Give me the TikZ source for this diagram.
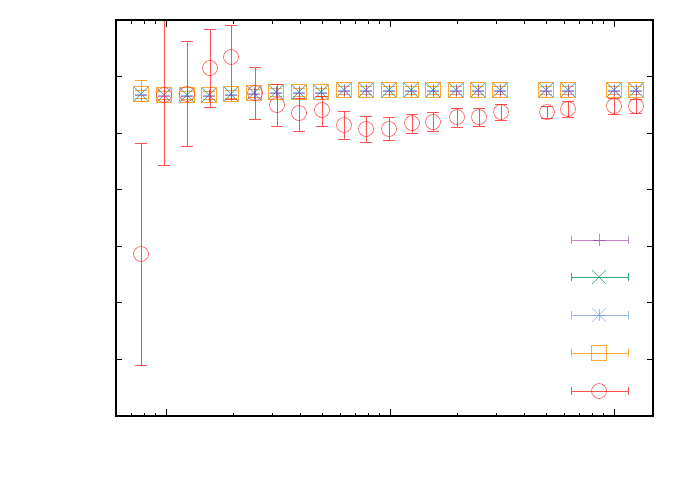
\documentclass[tikz,border=0pt]{standalone}
\begin{document}
\begin{tikzpicture}[x=1pt,y=-1pt,
  purp/.style={draw=violet!80!white,line width=0.6pt,opacity=0.6},
  grn/.style={draw=teal!80!green,line width=0.6pt,opacity=0.8},
  blu/.style={draw=cyan!60!blue!60,line width=0.6pt,opacity=0.7},
  org/.style={draw=orange!85!yellow,line width=0.6pt,opacity=0.8},
  rd/.style={draw=red!90!white,line width=0.6pt,opacity=0.75}]
\useasboundingbox (0,0) rectangle (692,485);
\newcommand\emplus[3]{\draw[#3] ({#1-6},#2)--({#1+6},#2) (#1,{#2-6})--(#1,{#2+6});}
\newcommand\emx[3]{\draw[#3] ({#1-7},{#2-7})--({#1+7},{#2+7}) ({#1-7},{#2+7})--({#1+7},{#2-7});}
\newcommand\emsq[3]{\draw[#3] ({#1-7.5},{#2-7.5}) rectangle ({#1+7.5},{#2+7.5});}
\newcommand\emcirc[3]{\draw[#3] (#1,#2) circle (7.5);}
\newcommand\ebar[4]{\draw[#4] (#1,#2)--(#1,#3) ({#1-6},#2)--({#1+6},#2) ({#1-6},#3)--({#1+6},#3);}
% other series
\foreach \x/\y in {141/94,164/95,187/95,209/95,231/94,254/93,276/92,299/92,321/92,344/90,366/90,389/90,411/90,433/90,456/90,478/90,500/90,546/90,568/90,614/90,636/90}{
  \ebar{\x}{\y-4}{\y+4}{org}
  \emsq{\x}{\y}{org}
  \emx{\x}{\y}{grn}
  \emplus{\x}{\y}{blu}
  \emx{\x}{\y}{blu}
  \emplus{\x}{\y+1}{purp}
}
\ebar{141}{80}{101}{org}
% red series
\foreach \x/\y/\lo/\hi in {141/254/143/365,164/95/20/165,187/94/41/146,210/68/29/107,231/57/25/99,255/93/67/119,277/105/84/126,299/113/98/131,322/110/96/126,344/125/111/139,366/129/116/142,389/129/117/140,412/123/114/133,433/122/112/131,457/117/108/127,479/117/108/126,501/112/104/120,547/112/106/118,568/109/101/117,614/106/98/114,636/106/99/113}{
  \ebar{\x}{\lo}{\hi}{rd}
  \emcirc{\x}{\y}{rd}
}
% legend
\foreach \yy/\st in {240/purp,277/grn,315/blu,353/org,391/rd}{
  \draw[\st] (571,\yy)--(628,\yy) (571,\yy-4)--(571,\yy+4) (628,\yy-4)--(628,\yy+4);
}
\emplus{599}{240}{purp}
\emx{599}{277}{grn}
\emplus{599}{315}{blu}\emx{599}{315}{blu}
\emsq{599}{353}{org}
\emcirc{599}{391}{rd}
% frame and ticks
\draw[line width=1.3pt] (116,20) rectangle (653,416);
\foreach \i in {1,...,6}{
  \draw[line width=1pt] (116,{20+56.57*\i})--(122,{20+56.57*\i}) (653,{20+56.57*\i})--(647,{20+56.57*\i});}
\foreach \d in {-58,166,390,614}{
  \foreach \k in {2,...,9}{
    \pgfmathsetmacro\xx{\d+224*log10(\k)}
    \pgfmathparse{(\xx>116)&&(\xx<653)?1:0}
    \ifnum\pgfmathresult=1
      \draw[line width=0.8pt] (\xx,416)--(\xx,412.5) (\xx,20)--(\xx,23.5);
    \fi
  }}
\foreach \d in {166,390,614}{
  \draw[line width=1pt] (\d,416)--(\d,409) (\d,20)--(\d,27);}
\end{tikzpicture}
\end{document}
